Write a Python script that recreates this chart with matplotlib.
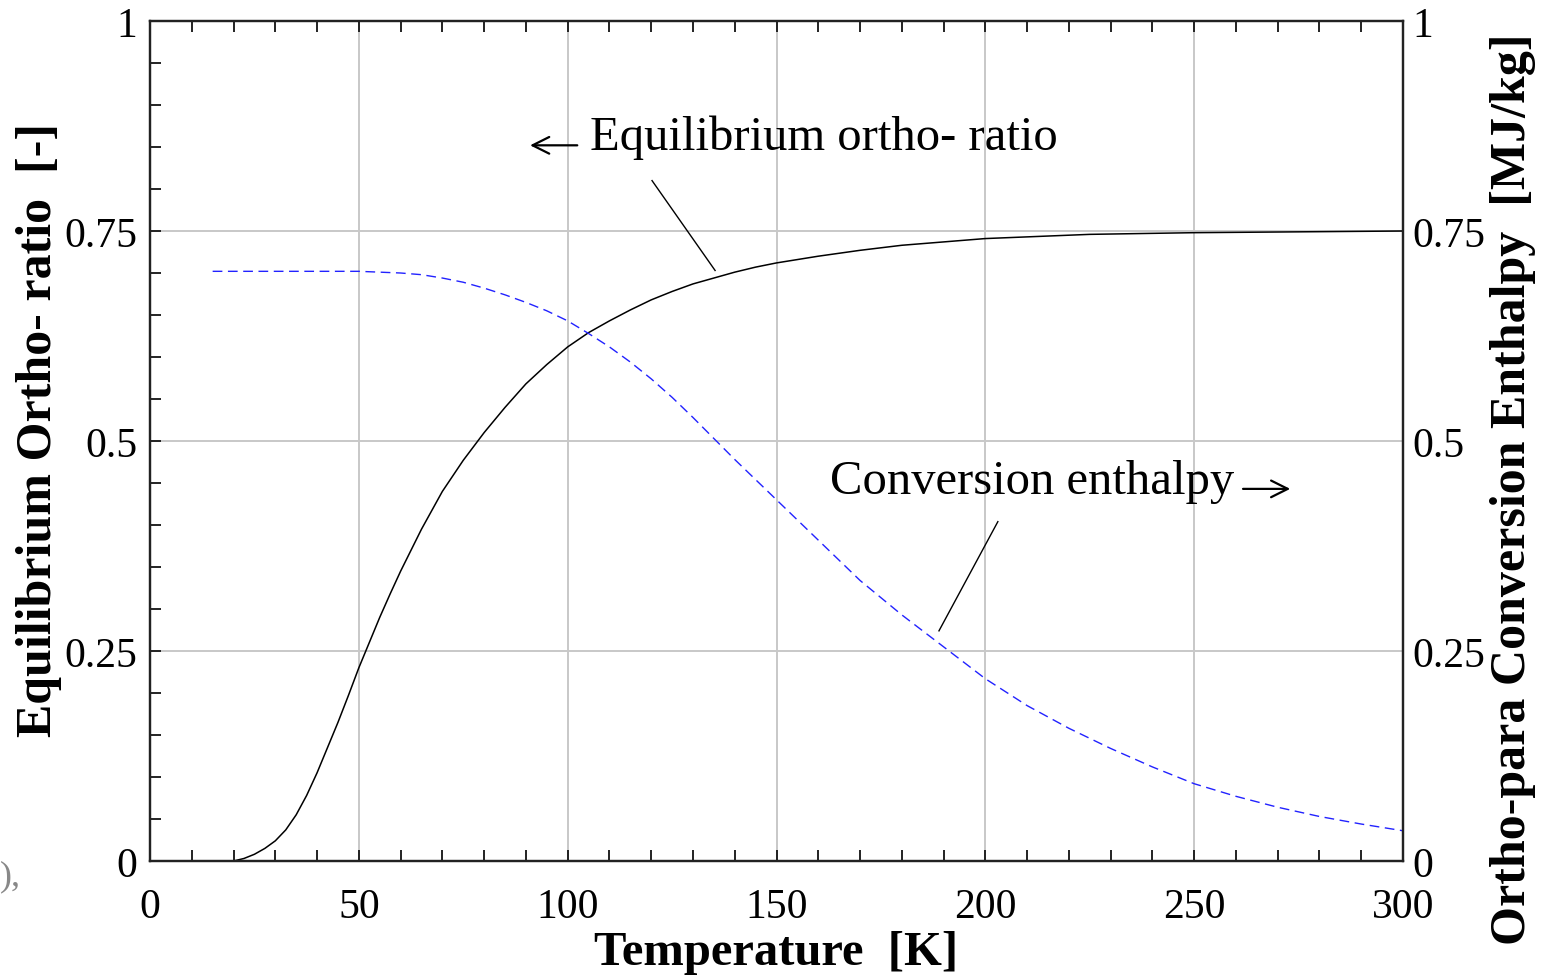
import matplotlib
matplotlib.use("Agg")
import matplotlib.pyplot as plt
from matplotlib.ticker import MultipleLocator, FuncFormatter

# ---- data ----
temp_ortho = [20, 22.5, 25, 27.5, 30, 32.5, 35, 37.5, 40, 42.5, 45, 47.5, 50, 52.5,
              55, 57.5, 60, 65, 70, 75, 80, 85, 90, 95, 100, 105, 110, 115, 120,
              125, 130, 135, 140, 145, 150, 160, 170, 180, 190, 200, 225, 250,
              275, 300]
ortho_ratio = [0.0, 0.003, 0.008, 0.015, 0.024, 0.037, 0.055, 0.078, 0.105, 0.135,
               0.165, 0.197, 0.23, 0.26, 0.29, 0.318, 0.345, 0.395, 0.44, 0.477,
               0.51, 0.54, 0.568, 0.591, 0.612, 0.629, 0.643, 0.656, 0.668, 0.678,
               0.687, 0.694, 0.701, 0.707, 0.712, 0.72, 0.727, 0.733, 0.737, 0.741,
               0.746, 0.748, 0.749, 0.75]

temp_enth = [15, 30, 50, 60, 65, 70, 75, 80, 85, 90, 95, 100, 105, 110, 115, 120,
             125, 130, 135, 140, 145, 150, 160, 170, 180, 190, 200, 210, 220, 230,
             240, 250, 260, 270, 280, 290, 300]
enthalpy = [0.702, 0.702, 0.702, 0.700, 0.698, 0.694, 0.689, 0.682, 0.674, 0.665,
            0.655, 0.643, 0.628, 0.612, 0.594, 0.574, 0.552, 0.528, 0.503, 0.478,
            0.454, 0.430, 0.382, 0.334, 0.293, 0.255, 0.217, 0.185, 0.158, 0.134,
            0.112, 0.092, 0.077, 0.064, 0.053, 0.044, 0.036]

x_ticks = [0, 50, 100, 150, 200, 250, 300]
y_ticks = [0, 0.25, 0.5, 0.75, 1]

serif = ['Liberation Serif', 'DejaVu Serif']
plt.rcParams['font.family'] = serif

fig = plt.figure(figsize=(15.44, 9.79), dpi=100)
ax = fig.add_axes([150/1544, 117/979, 1253/1544, 840/979])
ax2 = ax.twinx()

spine_c = '#222222'
for a in (ax, ax2):
    for s in a.spines.values():
        s.set_color(spine_c)
        s.set_linewidth(1.6)

ax.set_xlim(0, 300)
ax.set_ylim(0, 1)
ax2.set_ylim(0, 1)

ax.grid(True, which='major', color='#c8c8c8', lw=1.4)
ax.set_axisbelow(True)

ax.plot(temp_ortho, ortho_ratio, color='black', lw=1.1)
ax2.plot(temp_enth, enthalpy, color='#2222ff', lw=1.0, linestyle=(0, (7, 4)))

fmt = FuncFormatter(lambda v, p: ('%g' % v))
ax.set_xticks(x_ticks)
ax.set_yticks(y_ticks)
ax2.set_yticks(y_ticks)
ax.yaxis.set_major_formatter(fmt)
ax2.yaxis.set_major_formatter(fmt)
ax.xaxis.set_minor_locator(MultipleLocator(10))
ax.yaxis.set_minor_locator(MultipleLocator(0.05))

ax.tick_params(axis='x', which='both', direction='in', top=True, bottom=True,
               length=8, width=1.4, color=spine_c, labelsize=30, pad=19)
ax.tick_params(axis='y', which='both', direction='in', left=True, right=False,
               length=8, width=1.4, color=spine_c, labelsize=30, pad=9)
ax2.tick_params(axis='y', which='both', direction='in', right=True,
                length=0, width=1.4, color=spine_c, labelsize=30, pad=7)

ax.set_xlabel('Temperature  [K]', fontsize=35, fontweight='bold')
ax.xaxis.set_label_coords(0.5, -0.082)
fig.text(39/1544, 1 - 430/979, 'Equilibrium Ortho- ratio  [-]', fontsize=36,
         fontweight='bold', rotation=90, ha='center', va='center')
fig.text(1513/1544, 1 - 489/979, 'Ortho-para Conversion Enthalpy  [MJ/kg]',
         fontsize=36, fontweight='bold', rotation=90, ha='center', va='center')

# annotations
ax.text(105.3, 0.862, 'Equilibrium ortho- ratio', fontsize=35, ha='left',
        va='center')
ax.annotate('', xy=(91.0, 0.852), xytext=(102.3, 0.852),
            arrowprops=dict(arrowstyle='->', lw=1.6, color='black',
                            mutation_scale=30, shrinkA=0, shrinkB=0))
ax.plot([120.2, 135.3], [0.81, 0.703], color='black', lw=1.0)

ax.text(162.8, 0.452, 'Conversion enthalpy', fontsize=35, ha='left',
        va='center')
ax.annotate('', xy=(273.0, 0.443), xytext=(261.7, 0.443),
            arrowprops=dict(arrowstyle='->', lw=1.6, color='black',
                            mutation_scale=30, shrinkA=0, shrinkB=0))
ax.plot([203, 188.9], [0.404, 0.274], color='black', lw=1.0)

fig.text(0.0, 1 - 877/979, '),', fontsize=26, color='#888888', ha='left',
         va='center')

fig.savefig('out.png', dpi=100)
